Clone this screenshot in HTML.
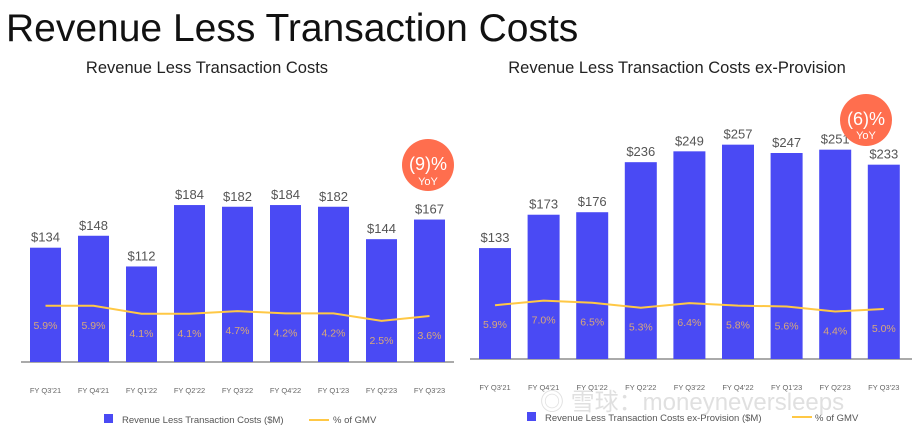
<!DOCTYPE html>
<html><head><meta charset="utf-8">
<style>
body{margin:0;background:#fff;width:918px;height:429px;overflow:hidden;font-family:"Liberation Sans","Noto Sans CJK SC",sans-serif;}
svg{display:block}
</style></head>
<body>
<svg width="918" height="429" xmlns="http://www.w3.org/2000/svg" font-family="Liberation Sans, Noto Sans CJK SC, sans-serif">
<text x="6" y="41" font-size="39" fill="#111">Revenue Less Transaction Costs</text>
<text x="207" y="73" font-size="16.5" fill="#222" text-anchor="middle">Revenue Less Transaction Costs</text>
<text x="677" y="73" font-size="16.5" fill="#222" text-anchor="middle">Revenue Less Transaction Costs ex-Provision</text>
<g id="left"></g>
<g id="right"></g>
<g>
<circle cx="428" cy="165" r="26" fill="#FF6E4E"/>
<text x="428" y="170" font-size="18" fill="#fff" text-anchor="middle">(9)%</text>
<text x="428" y="185" font-size="11" fill="#fff" text-anchor="middle">YoY</text>
</g>
<g>
<circle cx="866" cy="120" r="26" fill="#FF6E4E"/>
<text x="866" y="125" font-size="18" fill="#fff" text-anchor="middle">(6)%</text>
<text x="866" y="139" font-size="11" fill="#fff" text-anchor="middle">YoY</text>
</g>
<g>
<rect x="104" y="414" width="9" height="9" fill="#4A4AF4"/>
<text x="122" y="423" font-size="9.5" fill="#555">Revenue Less Transaction Costs ($M)</text>
<line x1="309" y1="420" x2="329" y2="420" stroke="#FFC845" stroke-width="2"/>
<text x="333" y="423" font-size="9.5" fill="#555">% of GMV</text>
</g>
<g>
<rect x="527" y="412" width="9" height="9" fill="#4A4AF4"/>
<text x="545" y="421" font-size="9.5" fill="#555">Revenue Less Transaction Costs ex-Provision ($M)</text>
<line x1="792" y1="417" x2="812" y2="417" stroke="#FFC845" stroke-width="2"/>
<text x="815" y="421" font-size="9.5" fill="#555">% of GMV</text>
</g>
<text x="540" y="410" font-size="24" fill="#ccc" opacity="0.6">◎ 雪球：moneyneversleeps</text>
</svg>
<script>
const cats=["FY Q3'21","FY Q4'21","FY Q1'22","FY Q2'22","FY Q3'22","FY Q4'22","FY Q1'23","FY Q2'23","FY Q3'23"];
const leftRev=[134,148,112,184,182,184,182,144,167];
const leftPct=[5.9,5.9,4.1,4.1,4.7,4.2,4.2,2.5,3.6];
const rightRev=[133,173,176,236,249,257,247,251,233];
const rightPct=[5.9,7.0,6.5,5.3,6.4,5.8,5.6,4.4,5.0];
const NS="http://www.w3.org/2000/svg";
function mk(t,a){const e=document.createElementNS(NS,t);for(const k in a)e.setAttribute(k,a[k]);return e;}
function draw(gid,cfg,rev,pct,side){
  const g=document.getElementById(gid);
  const xC=i=>cfg.x0+cfg.bw/2+i*cfg.step;
  const yB=v=>cfg.base-v*cfg.k;
  const yL=v=>cfg.l0-v*cfg.lk;
  const ax=mk('line',{x1:cfg.ax1,x2:cfg.ax2,y1:cfg.base,y2:cfg.base,stroke:'#555','stroke-width':1});
  
  
  g.appendChild(ax);
  rev.forEach((v,i)=>{
    const r=mk('rect',{x:xC(i)-cfg.bw/2,y:yB(v),width:cfg.bw,height:cfg.base-yB(v),fill:'#4A4AF4'});
    
    
    g.appendChild(r);
    const t=mk('text',{x:xC(i),y:yB(v)-6,'font-size':13,fill:'#555','text-anchor':'middle'});
    t.textContent='$'+v;
    
    
    g.appendChild(t);
    const c=mk('text',{x:xC(i),y:cfg.base+31,'font-size':7.5,fill:'#666','text-anchor':'middle'});
    c.textContent=cats[i];
    
    
    g.appendChild(c);
  });
  const pts=pct.map((v,i)=>xC(i)+','+yL(v)).join(' ');
  const pl=mk('polyline',{points:pts,fill:'none',stroke:'#FFC845','stroke-width':2});
  
  
  g.appendChild(pl);
  pct.forEach((v,i)=>{
    const t=mk('text',{x:xC(i),y:yL(v)+23,'font-size':10.5,fill:'#D9A87A','text-anchor':'middle'});
    t.textContent=v.toFixed(1)+'%';
    
    
    g.appendChild(t);
  });
}
draw('left',{x0:30,bw:31,step:48,base:362,k:0.853,l0:332,lk:4.44,ax1:21,ax2:454},leftRev,leftPct,'left');
draw('right',{x0:479,bw:32,step:48.6,base:359,k:0.834,l0:330,lk:4.2,ax1:470,ax2:912},rightRev,rightPct,'right');
</script>
</body></html>
